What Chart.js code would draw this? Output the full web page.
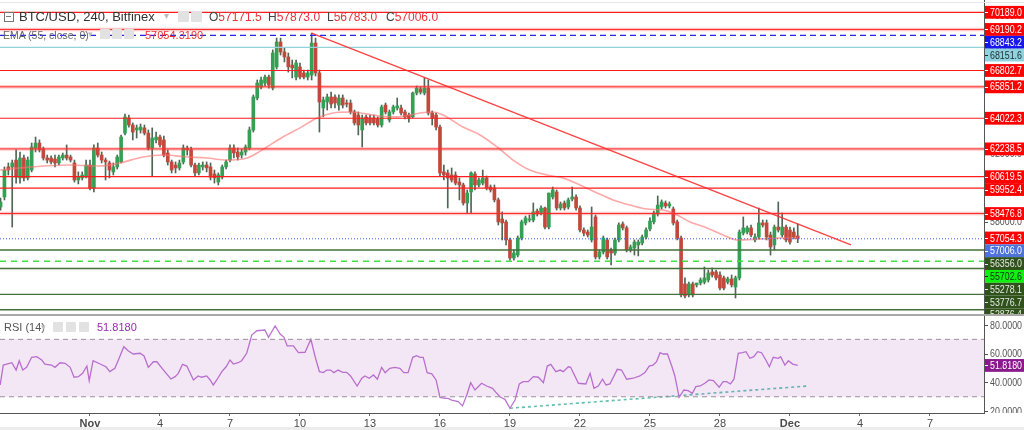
<!DOCTYPE html>
<html><head><meta charset="utf-8">
<script src="https://cdn.jsdelivr.net/npm/chart.js@4.4.1/dist/chart.umd.min.js"></script>
<style>
body{margin:0;background:#fff;width:1024px;height:430px;overflow:hidden;position:relative;font-family:'Liberation Sans',Arial,sans-serif;}
canvas{position:absolute;left:0;}
#main{top:0;}
#rsi{top:314px;}
.t{position:absolute;white-space:nowrap;line-height:1;}
.ic{position:absolute;width:11px;height:11px;background:#e2e2e2;border-radius:1px;}
.sep{position:absolute;left:0;width:1024px;}
</style></head><body>
<canvas id="main" width="1024" height="314"></canvas>
<canvas id="rsi" width="1024" height="116"></canvas>
<div class="sep" style="top:2px;height:1px;background:#e4e4e4"></div>
<div class="sep" style="top:314px;height:2px;background:#a8a8a8"></div>
<div class="sep" style="top:427px;height:3px;background:#ececec"></div>

<div style="position:absolute;left:4px;top:12px;width:8px;height:8px;border:1px solid #777;"></div>
<div style="position:absolute;left:6px;top:16px;width:5px;height:1px;background:#777;"></div>
<div class="t" style="left:19px;top:10px;font-size:13px;color:#333">BTC/USD, 240, Bitfinex</div>
<div class="t" style="left:164px;top:11px;font-size:10px;color:#bbb">▾</div>
<div class="ic" style="left:178px;top:11px"></div>
<div class="ic" style="left:191px;top:11px"></div>
<div class="t" style="left:209px;top:11px;font-size:12px;color:#444">O<span style="color:#e8333a">57171.5</span></div>
<div class="t" style="left:268px;top:11px;font-size:12px;color:#444">H<span style="color:#e8333a">57873.0</span></div>
<div class="t" style="left:327px;top:11px;font-size:12px;color:#444">L<span style="color:#e8333a">56783.0</span></div>
<div class="t" style="left:386px;top:11px;font-size:12px;color:#444">C<span style="color:#e8333a">57006.0</span></div>

<div class="t" style="left:3px;top:30px;font-size:10.5px;color:#666">EMA (55, close, 0)</div>
<div class="t" style="left:88px;top:30px;font-size:9px;color:#bbb">▾</div>
<div class="ic" style="left:100px;top:29px;width:10px;height:10px"></div>
<div class="ic" style="left:112px;top:29px;width:10px;height:10px"></div>
<div class="ic" style="left:124px;top:29px;width:10px;height:10px"></div>
<div class="t" style="left:145px;top:30px;font-size:11px;color:#f03030">57054.3190</div>

<div class="t" style="left:4px;top:322px;font-size:11px;color:#555">RSI (14)</div>
<div class="t" style="left:41px;top:323px;font-size:9px;color:#bbb">▾</div>
<div class="ic" style="left:53px;top:322px;width:10px;height:10px"></div>
<div class="ic" style="left:66px;top:322px;width:10px;height:10px"></div>
<div class="ic" style="left:79px;top:322px;width:10px;height:10px"></div>
<div class="t" style="left:97px;top:322px;font-size:11px;color:#9c27b0">51.8180</div>

<script>
// ---- candles (4h bars, index 1 = Oct 28 04:00, index 24 = Nov 1 00:00) ----
const opens = [58860,59440,61190,61190,61590,60550,61710,60550,61010,62290,
62580,62230,61710,61710,61650,61420,61710,61880,61770,61420,
60430,60550,60600,61300,59960,62290,61880,61590,61420,60900,
61190,61480,63160,64040,63630,63340,63340,63460,63160,62290,
62760,62930,62760,62000,61480,61300,61130,61480,62290,62180,
61300,60840,61190,61300,61190,60780,60310,60600,61190,61590,
62290,62060,61880,62060,62290,63340,65200,65840,66070,66420,
65780,67010,68460,67880,67590,67120,66420,67010,66660,66420,
66540,68400,66660,64620,64970,65260,65260,64790,65200,64910,
64910,64390,64210,63340,64100,64040,64040,63980,63630,64790,
63920,64390,64620,64620,64390,64210,64100,65490,65730,65490,
65780,64330,64210,63510,60900,60840,60720,60720,60310,60140,
59090,59730,60780,60140,60250,60550,60020,59960,59270,58160,
57990,56940,55890,56060,57050,57930,58100,58100,58620,58510,
58800,57690,59440,59730,58800,59090,58860,59320,59440,58800,
57520,57400,56940,58280,55950,56240,56940,56360,56180,56940,
57870,57640,56360,56470,56650,56760,57110,57580,57990,58450,
58860,59090,58920,58740,57990,57050,54380,53740,54380,54320,
54430,54490,54610,55080,55080,54900,54730,54490,54670,54200,
54730,57340,57400,57640,56940,57110,57930,57930,57230,56650,
57690,57230,57690,57520,57400,57171.5];
const highs = [59380,61190,61420,61590,62180,62060,61880,61770,62580,62930,
62760,62350,61880,61830,61880,61880,62000,62470,61880,61590,
60900,60900,61590,61590,62470,62580,62060,61710,61530,61420,
61880,63050,64270,64210,63750,63630,63690,63630,63340,63460,
63220,63050,62990,62180,61590,61480,61590,62470,62410,62350,
61420,61420,61480,61480,61420,61010,60840,61300,61590,62470,
62470,62290,62230,62470,63510,65380,66250,66420,66540,66540,
68000,68690,68690,68110,67820,67410,67410,67240,66830,66830,
68980,68690,66830,65260,65430,65550,65380,65380,65380,65090,
65090,64500,64390,64210,64210,64210,64210,64100,64790,64910,
64500,64790,65200,64790,64500,64330,65550,65900,65840,66370,
66250,64450,64330,63630,61300,61010,61130,60900,60550,60250,
59850,60900,60900,60550,61010,60660,60140,60140,59380,58570,
58100,57050,56360,57170,58100,58330,58390,59090,58740,58920,
58860,59670,60020,59850,59150,59210,59380,60020,59560,58920,
57640,57520,58860,58390,56360,57170,57050,56470,57050,57930,
57990,57750,56650,56940,56940,57230,57640,58220,58620,59500,
59270,59210,59150,58860,58100,57170,54730,54490,54490,54430,
54730,55370,55190,55310,55190,55080,54840,54780,54900,54840,
57520,58280,57750,57810,57290,58800,58100,58100,57400,57810,
59150,58510,57810,57690,57640,57873.0];
const lows = [58680,59270,60720,57690,60250,60250,60370,60430,60900,62060,
62060,61590,61420,61360,61190,61300,61590,61590,61480,60310,
60200,60430,60550,59850,59730,61770,61420,60430,60550,60720,
61070,61420,63050,63510,62760,62870,63160,63050,62180,60660,
62580,62350,61770,61300,60840,60840,61010,61360,61880,61190,
60660,60720,61010,60900,60430,60250,60140,60490,61070,61480,
61710,61590,61710,61880,62180,63220,65090,65730,65900,65780,
65670,66890,67700,67300,66710,66370,66250,66310,66310,66250,
66250,66480,63220,64100,64500,64620,64620,64500,64620,64680,
64270,63630,63050,62350,63630,63630,63630,63510,63510,64270,
63800,64270,64500,64210,63980,63800,64040,65380,65430,65380,
64210,63630,63340,60660,60430,58800,60310,60140,59270,58970,
58510,58510,59850,60020,60140,59850,59730,59150,57810,56940,
56650,55770,55770,55950,56940,57810,57990,57990,58330,58390,
57580,57580,59320,58680,58680,58680,58740,59210,58680,57400,
57170,57110,56820,55830,55830,56120,55830,55480,56060,56820,
57520,56240,56240,56060,56010,56650,57000,57460,57870,58330,
58740,58800,58800,57810,56940,53620,53560,53620,53620,54200,
54320,54380,54490,54780,54610,54030,54030,54380,54200,53560,
54610,57230,57290,57110,56820,57000,57690,56940,56060,56360,
57400,57110,56820,56700,57000,56783.0];
const closes = [59150,61010,61010,61420,60600,61710,60550,61590,62350,62580,
62180,61710,61590,61480,61420,61770,61880,61710,61590,60430,
60600,60720,61300,59960,62290,61880,61590,61480,61010,61190,
61770,62930,64100,63630,63220,63460,63510,63160,62290,62870,
62930,62470,61880,61480,61010,61130,61420,62290,62180,61300,
60840,61300,61300,61130,60600,60550,60720,61190,61480,62290,
62000,61770,62060,62350,63340,65260,66070,66250,66420,65960,
67820,68460,67880,67590,67010,66950,67240,66420,66420,66660,
68400,66660,64970,65090,65260,64850,64910,65200,64790,64850,
64390,63750,63630,64040,63750,63750,63750,63630,64680,64390,
64390,64680,64740,64330,64100,64040,65490,65780,65550,65780,
64330,64040,63510,60840,60720,60550,60430,60250,60140,59090,
59670,60840,60140,60430,60550,59960,59850,59270,57990,57930,
56940,55890,56180,57050,57990,58220,58160,58570,58450,58800,
57690,59670,59850,58800,59030,58800,59270,59440,58800,57520,
57340,57230,57690,55950,56240,57050,55950,56180,56940,57810,
57640,56360,56530,56820,56820,57110,57520,58040,58510,58970,
59150,58920,59030,57930,57050,53740,53680,54380,53740,54430,
54610,54730,55020,54900,54730,54140,54140,54670,54320,54730,
57400,57640,57640,57230,57110,57930,57810,57110,56530,57690,
57520,57690,56940,56820,57110,57006.0];

// ---- EMA(55) (bar index, value) ----
const emaIdx = [0.9,9.3,18.1,26.6,31.7,37.6,42.8,49.0,54.1,59.2,64.4,67.0,69.5,73.6,78.0,82.4,86.5,90.9,98.6,103.0,108.9,112.2,114.8,119.9,124.3,128.7,132.8,137.1,141.5,145.6,150.0,154.4,158.5,162.9,167.2,171.3,173.9,178.3,182.7,186.8,190.4,196.3,201.4,206];
const emaVal = [61010,61190,61300,61240,61420,61770,61880,61770,61710,61590,61710,62000,62350,62930,63460,64040,64330,64390,64150,64100,64330,64390,64210,63510,63050,62350,61590,61010,60720,60550,60140,59670,59270,58970,58740,58680,58510,57990,57640,57230,56940,57000,57050,57054.3];

// ---- RSI(14) ----
const rsiIdx = [0.9,1.7,3.9,5.0,5.8,6.7,7.7,9.0,10.3,11.6,12.4,14.1,15.0,16.3,17.6,18.9,19.9,21.0,22.1,23.2,23.8,24.8,26.6,28.1,29.1,30.4,31.3,32.7,33.8,35.1,36.9,37.9,39.0,40.3,41.2,42.9,44.8,45.9,46.7,47.8,48.9,50.6,51.8,52.7,54.0,54.9,55.7,56.6,57.9,59.0,60.0,60.9,62.1,63.0,64.3,65.6,66.9,69.0,69.9,71.6,72.9,73.9,74.7,76.3,77.6,79.3,80.8,81.9,83.0,84.0,84.9,85.9,86.7,87.8,89.0,90.0,91.0,92.7,93.9,94.7,95.8,96.9,97.9,99.0,99.9,101.1,102.4,103.7,104.7,105.8,107.0,108.0,108.9,109.7,110.7,111.9,113.0,114.0,115.3,116.1,117.0,118.7,119.8,120.9,121.9,123.0,124.7,126.0,127.5,128.6,129.6,130.7,132.0,133.3,134.4,135.4,136.7,138.0,139.3,140.6,141.6,142.5,143.8,144.9,145.7,147.0,147.6,149.6,151.5,152.6,153.6,154.7,155.8,156.7,157.7,159.6,160.7,162.0,163.7,165.4,166.7,167.8,168.8,169.7,170.6,171.4,172.5,173.6,174.4,175.5,176.7,177.8,178.9,179.8,180.9,182.1,183.2,184.3,185.8,186.8,187.7,188.7,189.6,190.7,191.8,192.7,193.7,194.7,195.7,196.7,197.8,198.7,199.7,201.0,201.6,202.7,203.6,204.7,206];
const rsiVal = [38.2,52.1,53.7,48.6,55.1,48.6,50.5,57.5,57.9,55.6,52.8,52.1,50.5,53.7,53.3,50.5,43.6,44.0,46.3,51.4,41.2,55.1,52.8,50.9,47.5,49.8,55.6,64.9,62.1,59.8,60.3,58.4,50.5,54.4,54.4,48.6,42.4,44.0,46.3,52.6,51.4,41.7,44.5,43.6,44.5,41.7,38.2,41.7,47.5,50.9,55.6,52.8,53.7,55.1,60.3,73.0,76.0,76.5,71.4,79.3,73.7,71.4,65.4,65.4,60.7,61.0,70.0,57.9,47.5,46.8,48.6,48.6,46.8,48.6,47.0,47.0,44.5,37.5,42.9,44.5,42.9,45.2,42.2,50.5,46.8,49.8,50.5,49.8,46.8,46.8,57.5,58.6,57.5,57.5,46.8,45.9,41.7,29.6,28.9,28.9,27.7,26.6,23.6,31.2,39.8,34.7,39.4,37.5,35.9,32.4,29.6,28.2,22.0,27.7,38.9,40.5,40.5,44.0,43.6,39.8,51.4,52.6,47.5,48.6,47.5,50.9,50.5,39.4,38.9,46.3,35.9,37.5,42.2,38.2,38.9,49.1,48.6,42.2,42.9,44.5,46.8,51.4,52.1,54.4,60.7,59.8,59.8,51.4,44.5,29.6,34.7,34.2,32.4,37.0,37.5,39.4,41.7,41.2,36.6,40.5,40.5,38.9,42.2,60.3,60.7,61.4,56.8,57.9,61.4,60.7,55.6,50.9,57.5,56.8,57.9,52.1,55.1,52.8,51.818];

// ---- drawn levels and trend lines ----
const redLevelsSolid = [70189.0, 66802.7, 64022.3, 60619.5, 59952.4];
const redLevelsSoft = [69190.2, 65851.2, 62238.5, 58476.8];
const greenLevels = [56356.0, 55278.1, 53776.7, 52876.4];
const greenDashedLevels = [55702.6];
const blueDashedLevels = [68843.2];
const lightBlueLevels = [68151.6];
const emaLast = 57054.3;
const lastClose = 57006.0;
const trendIdx = [81, 219.7];
const trendVal = [68980, 56650];
const rsiTrendIdx = [132, 208.6];
const rsiTrendVal = [22.0, 37.5];
const rsiLast = 51.818;

// ---- axes ----
const dateTickIdx = [24,42,60,78,96,114,132,150,168,186,204,222,240];
const dateTickLabels = ['Nov','4','7','10','13','16','19','22','25','28','Dec','4','7'];
const priceTicks = [54000,56000,58000,60000,62000,64000,66000,68000,70000];
const rsiTicks = [80,60,40,20];
const rsiBands = [70,30];
const xMin = 0.857, xMax = 253.9;
const priceMin = 52630, priceMax = 70905;
const rsiMin = 18.68, rsiMax = 86.27;

Chart.defaults.font.family = "'Liberation Sans', Arial, sans-serif";
const FONT = "11px 'Liberation Sans', Arial, sans-serif";
const LABEL_W = 32;

const upCol = '#35a054', downCol = '#c2483c', wickCol = '#4f6654';
const isUp = opens.map((o,k)=>closes[k]>=o);
const wickData = opens.map((o,k)=>({x:k+1, y:[Math.min(lows[k],o,closes[k]), Math.max(highs[k],o,closes[k])]}));
const bodyData = opens.map((o,k)=>({x:k+1, y:[Math.min(o,closes[k]), Math.max(o,closes[k])]}));

function hline(v, color, width, dash, order){
  return {type:'line', data:[{x:xMin,y:v},{x:xMax,y:v}], borderColor:color, borderWidth:width,
    borderDash:dash||[], pointRadius:0, fill:false, order:order||1};
}
const levelSets = [];
redLevelsSoft.forEach(v=>{ levelSets.push(hline(v,'rgba(255,60,60,0.28)',3.5,null,2)); levelSets.push(hline(v,'#ff2a2a',1,null,1)); });
redLevelsSolid.forEach(v=>levelSets.push(hline(v,'#ff1c1c',1.2)));
greenLevels.forEach(v=>levelSets.push(hline(v,'#44703a',1.3)));
greenDashedLevels.forEach(v=>levelSets.push(hline(v,'#3fe03f',1.5,[6,5])));
blueDashedLevels.forEach(v=>levelSets.push(hline(v,'#2424e6',1.2,[6,4])));
lightBlueLevels.forEach(v=>levelSets.push(hline(v,'#93d2dc',1.2)));
levelSets.push(hline(lastClose,'#3b5cf0',1,[1,2]));

const labelItems = [];
redLevelsSolid.concat(redLevelsSoft).forEach(v=>labelItems.push({v, bg:'#ff0000', fg:'#ffffff'}));
blueDashedLevels.forEach(v=>labelItems.push({v, bg:'#1616ee', fg:'#ffffff'}));
lightBlueLevels.forEach(v=>labelItems.push({v, bg:'#8fd3de', fg:'#1e2a2c'}));
labelItems.push({v:emaLast, bg:'#ff0000', fg:'#ffffff'});
labelItems.push({v:lastClose, bg:'#4f72dc', fg:'#ffffff'});
greenLevels.forEach(v=>labelItems.push({v, bg:'#2e5219', fg:'#e8e8e8'}));
greenDashedLevels.forEach(v=>labelItems.push({v, bg:'#11f011', fg:'#1a2a1a'}));

const mainAxisPlugin = {
  id:'mainAxis',
  afterDraw(chart){
    const {ctx, chartArea:a, scales:{y}} = chart;
    ctx.save();
    ctx.beginPath(); ctx.rect(a.right, 0, chart.width-a.right, a.bottom); ctx.clip();
    ctx.font = FONT; ctx.textBaseline = 'middle'; ctx.textAlign = 'left';
    priceTicks.forEach(v=>{
      const py = y.getPixelForValue(v);
      ctx.fillStyle = '#555'; ctx.fillRect(a.right+1, Math.round(py), 3, 1);
      ctx.fillText(v.toFixed(1), a.right+6, py+0.5, LABEL_W);
    });
    const H = 12.8;
    const items = labelItems.map(o=>({...o, py:y.getPixelForValue(o.v)})).sort((p,q)=>p.py-q.py);
    let prev = -1e9;
    items.forEach(o=>{ o.cy = Math.max(o.py, prev+H); prev = o.cy; });
    items.forEach(o=>{
      ctx.fillStyle = o.bg; ctx.fillRect(a.right+1, o.cy-H/2, chart.width-a.right, H);
      ctx.fillStyle = o.fg; ctx.fillRect(a.right+1, Math.round(o.cy), 3, 1);
      ctx.fillText(o.v.toFixed(1), a.right+6, o.cy+0.5, LABEL_W);
    });
    ctx.restore();
    ctx.fillStyle = '#555'; ctx.fillRect(a.right, 0, 1, a.bottom);
  }
};

new Chart(document.getElementById('main'), {
  type:'bar',
  data:{datasets:[
    {type:'bar', data:wickData, backgroundColor:wickCol, barThickness:1, grouped:false, order:20},
    {type:'bar', data:bodyData, backgroundColor:isUp.map(u=>u?upCol:downCol),
      borderWidth:0, barThickness:3, minBarLength:1, grouped:false, order:19},
    {type:'line', data:emaIdx.map((x,k)=>({x, y:emaVal[k]})), borderColor:'rgba(255,110,110,0.6)', borderWidth:1.6,
      pointRadius:0, cubicInterpolationMode:'monotone', fill:false, order:15},
    {type:'line', data:trendIdx.map((x,k)=>({x, y:trendVal[k]})), borderColor:'rgba(255,45,45,0.9)', borderWidth:1.4,
      pointRadius:0, fill:false, order:1},
    ...levelSets
  ]},
  options:{
    responsive:false, animation:false, events:[],
    layout:{padding:{left:0,right:40,top:0,bottom:0}},
    plugins:{legend:{display:false}, tooltip:{enabled:false}},
    scales:{
      x:{type:'linear', min:xMin, max:xMax, display:false, offset:false, bounds:'data'},
      y:{type:'linear', min:priceMin, max:priceMax, display:false, bounds:'data'}
    }
  },
  plugins:[mainAxisPlugin]
});

const rsiAxisPlugin = {
  id:'rsiAxis',
  afterDraw(chart){
    const {ctx, chartArea:a, scales:{y}} = chart;
    ctx.save();
    ctx.beginPath(); ctx.rect(a.right, 0, chart.width-a.right, a.bottom); ctx.clip();
    ctx.font = FONT; ctx.textBaseline = 'middle'; ctx.textAlign = 'left';
    rsiTicks.forEach(v=>{
      const py = y.getPixelForValue(v);
      ctx.fillStyle = '#555'; ctx.fillRect(a.right+1, Math.round(py), 3, 1);
      ctx.fillText(v.toFixed(4), a.right+6, py+0.5, LABEL_W);
    });
    const py = y.getPixelForValue(rsiLast);
    ctx.fillStyle = '#8a1a8c'; ctx.fillRect(a.right+1, py-6.4, chart.width-a.right, 12.8);
    ctx.fillStyle = '#fff'; ctx.fillRect(a.right+1, Math.round(py), 3, 1);
    ctx.fillText(rsiLast.toFixed(4), a.right+6, py+0.5, LABEL_W);
    ctx.restore();
    ctx.fillStyle = '#555'; ctx.fillRect(a.right, 0, 1, a.bottom);
  }
};

new Chart(document.getElementById('rsi'), {
  type:'line',
  data:{datasets:[
    {data:[{x:xMin,y:rsiBands[0]},{x:xMax,y:rsiBands[0]}], borderColor:'#9b909b', borderWidth:1, borderDash:[5,4], pointRadius:0, fill:false},
    {data:[{x:xMin,y:rsiBands[1]},{x:xMax,y:rsiBands[1]}], borderColor:'#9b909b', borderWidth:1, borderDash:[5,4], pointRadius:0,
      fill:'-1', backgroundColor:'rgba(160,70,175,0.13)'},
    {data:rsiIdx.map((x,k)=>({x, y:rsiVal[k]})), borderColor:'#bc74d2', borderWidth:1.3, pointRadius:0, fill:false, tension:0},
    {data:rsiTrendIdx.map((x,k)=>({x, y:rsiTrendVal[k]})), borderColor:'rgba(40,170,150,0.75)', borderWidth:1.6, borderDash:[3,3], pointRadius:0, fill:false}
  ]},
  options:{
    responsive:false, animation:false, events:[],
    layout:{padding:{left:0,right:40,top:2,bottom:0}},
    plugins:{legend:{display:false}, tooltip:{enabled:false}},
    scales:{
      x:{type:'linear', min:xMin, max:xMax, bounds:'data', position:'bottom',
        afterBuildTicks:(s)=>{ s.ticks = dateTickIdx.map(v=>({value:v})); },
        afterFit:(s)=>{ s.height = 17; },
        ticks:{autoSkip:false, maxRotation:0, minRotation:0, padding:1, color:'#4a4a4a',
          callback:(v,i)=>dateTickLabels[i],
          font:(c)=>({size:11, weight:(dateTickLabels[c.index]==='Nov'||dateTickLabels[c.index]==='Dec')?'bold':'normal'})},
        grid:{drawOnChartArea:false, drawTicks:true, tickLength:3, color:'#666'},
        border:{display:true, color:'#555', width:1}
      },
      y:{type:'linear', min:rsiMin, max:rsiMax, display:false, bounds:'data'}
    }
  },
  plugins:[rsiAxisPlugin]
});
</script>
</body></html>
